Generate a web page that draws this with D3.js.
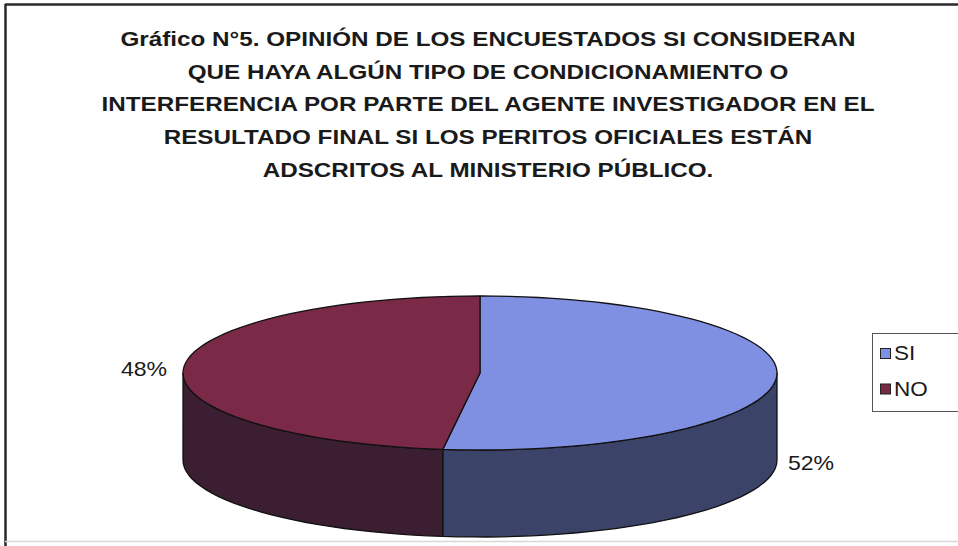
<!DOCTYPE html>
<html>
<head>
<meta charset="utf-8">
<script src="https://cdn.jsdelivr.net/npm/d3@7/dist/d3.min.js"></script>
<style>
  html, body { margin: 0; padding: 0; background: #ffffff; }
  svg { display: block; }
  text { font-family: "Liberation Sans", Arial, sans-serif; fill: #1a1a1a; }
</style>
</head>
<body>
<svg id="chart" width="958" height="546"></svg>
<script>
// Survey answers and their shares (percent)
const categories = ["SI", "NO"];
const values = [52, 48];
const valueLabels = ["52%", "48%"];
const titleLines = [
  "Gráfico N°5. OPINIÓN DE LOS ENCUESTADOS SI CONSIDERAN",
  "QUE HAYA ALGÚN TIPO DE CONDICIONAMIENTO O",
  "INTERFERENCIA POR PARTE DEL AGENTE INVESTIGADOR EN EL",
  "RESULTADO FINAL SI LOS PERITOS OFICIALES ESTÁN",
  "ADSCRITOS AL MINISTERIO PÚBLICO."
];

const topColors = d3.scaleOrdinal().domain(categories).range(["#7f8fe2", "#7a2946"]);
const sideColors = d3.scaleOrdinal().domain(categories).range(["#3c4369", "#3b1e32"]);

// text in this chart is set slightly wide
const stretch = 1.155;

const svg = d3.select("#chart");

// Outer frame
svg.append("line").attr("x1", 5).attr("y1", 4.5).attr("x2", 958).attr("y2", 4.5)
  .attr("stroke", "#2a2a2a").attr("stroke-width", 2.5);
svg.append("line").attr("x1", 5.5).attr("y1", 4).attr("x2", 5.5).attr("y2", 546)
  .attr("stroke", "#2a2a2a").attr("stroke-width", 2.5);
svg.append("line").attr("x1", 5).attr("y1", 541.5).attr("x2", 958).attr("y2", 541.5)
  .attr("stroke", "#d8d8d8").attr("stroke-width", 1.5);

// Wide text helper: anchored at (x, y), stretched horizontally
function wideText(parent, x, y, str, size, anchor, weight) {
  return parent.append("g").attr("transform", `translate(${x},${y}) scale(${stretch},1)`)
    .append("text")
    .attr("text-anchor", anchor)
    .style("font-size", size + "px")
    .style("font-weight", weight || "normal")
    .text(str);
}

// Title
titleLines.forEach((line, i) => {
  wideText(svg, 488, 46 + i * 32.7, line, 21, "middle", "bold");
});

// 3D pie geometry
const cx = 480, cy = 373, rx = 297, ry = 77, depth = 87;
const pie = d3.pie().sort(null).value(d => d)
  .startAngle(0).endAngle(2 * Math.PI);
const arcs = pie(values);

// Point on the top ellipse at angle a (clockwise from 12 o'clock)
const px = a => cx + rx * Math.sin(a);
const py = (a, dz = 0) => cy - ry * Math.cos(a) + dz;

function ellipseArc(p, a0, a1, dz) {
  const n = Math.max(2, Math.ceil(Math.abs(a1 - a0) / 0.05));
  for (let k = 1; k <= n; k++) {
    const a = a0 + (a1 - a0) * k / n;
    p.lineTo(px(a), py(a, dz));
  }
}

// Visible front walls: angles between 90° and 270°
const frontStart = Math.PI / 2, frontEnd = 3 * Math.PI / 2;
const g = svg.append("g");

arcs.forEach((d, i) => {
  const a0 = Math.max(d.startAngle, frontStart);
  const a1 = Math.min(d.endAngle, frontEnd);
  if (a1 <= a0) return;
  const p = d3.path();
  p.moveTo(px(a0), py(a0));
  ellipseArc(p, a0, a1, 0);
  p.lineTo(px(a1), py(a1, depth));
  ellipseArc(p, a1, a0, depth);
  p.closePath();
  g.append("path").attr("d", p.toString())
    .attr("fill", sideColors(categories[i]))
    .attr("stroke", "#111").attr("stroke-width", 1.3)
    .attr("stroke-linejoin", "round");
});

// Top faces
arcs.forEach((d, i) => {
  const p = d3.path();
  p.moveTo(cx, cy);
  p.lineTo(px(d.startAngle), py(d.startAngle));
  ellipseArc(p, d.startAngle, d.endAngle, 0);
  p.closePath();
  g.append("path").attr("d", p.toString())
    .attr("fill", topColors(categories[i]))
    .attr("stroke", "#111").attr("stroke-width", 1.3)
    .attr("stroke-linejoin", "round");
});

// Percentage labels
wideText(svg, 811, 470, valueLabels[0], 20, "middle");
wideText(svg, 144, 376, valueLabels[1], 20, "middle");

// Legend
const legend = svg.append("g");
legend.append("rect").attr("x", 872.5).attr("y", 333.5).attr("width", 92).attr("height", 78)
  .attr("fill", "#fff").attr("stroke", "#555").attr("stroke-width", 1);
categories.forEach((c, i) => {
  const y = 348 + i * 35.5;
  legend.append("rect").attr("x", 880.5).attr("y", y + 0.5).attr("width", 10).attr("height", 10)
    .attr("fill", topColors(c)).attr("stroke", "#222").attr("stroke-width", 1);
  wideText(legend, 894, y + 12, c, 19.5, "start");
});
</script>
</body>
</html>
